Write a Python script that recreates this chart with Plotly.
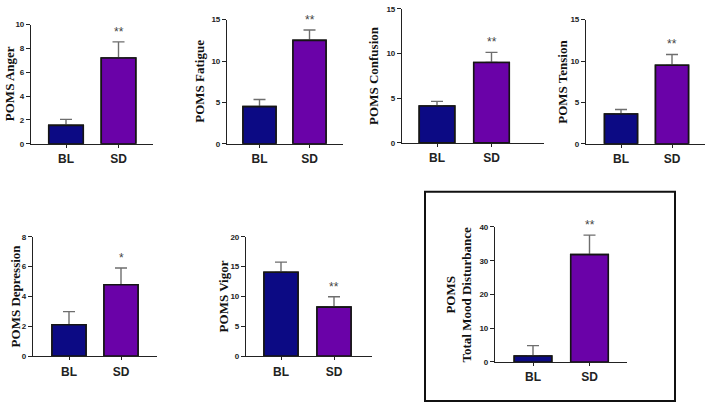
import plotly.graph_objects as go

W, H = 708, 409

# data (mean and upper SEM)
groups = ["BL", "SD"]
labels = ["POMS Anger", "POMS Fatigue", "POMS Confusion", "POMS Tension",
          "POMS Depression", "POMS Vigor", "POMS<br>Total Mood Disturbance"]
bl_mean = [1.55, 4.5, 4.13, 3.6, 2.1, 14.05, 1.75]
bl_sem = [0.5, 0.85, 0.52, 0.55, 0.88, 1.7, 3.1]
sd_mean = [7.2, 12.5, 9.0, 9.5, 4.78, 8.2, 31.8]
sd_sem = [1.35, 1.25, 1.13, 1.3, 1.13, 1.75, 5.8]
stars = ["**", "**", "**", "**", "*", "**", "**"]
y_max = [10, 15, 15, 15, 8, 20, 40]
y_step = [2, 5, 5, 5, 2, 5, 10]

# panel placement in pixels: axis left, axis right, top tick, zero line,
# BL centre, SD centre, bar width, title centre x
panels = [
    (31, 153, 21, 143, 66, 118.5, 34.5, 9),
    (227, 343, 16, 143, 259.5, 309.5, 33, 200),
    (402, 544, 5, 142, 437, 491.5, 35.5, 374),
    (586, 705, 16, 143, 621, 672, 33, 563),
    (33, 157, 238, 360, 69, 121, 34, 15),
    (246, 372, 238, 360, 281, 334, 34, 223),
    (495, 627, 228, 366, 533, 589.5, 37.5, 459),
]

bl_color = "#0c0a84"
sd_color = "#6a02a8"

fig = go.Figure()
annotations = []
layout = {}

for i, (left, right, top, bottom, blc, sdc, bw, tx) in enumerate(panels):
    n = "" if i == 0 else str(i + 1)
    unit = sdc - blc
    bar_style = dict(color=[bl_color, sd_color], line=dict(color="#151515", width=1.6))
    # error bars (upper only)
    fig.add_trace(go.Bar(
        x=[0, 1], y=[bl_mean[i], sd_mean[i]], width=bw / unit, marker=bar_style,
        error_y=dict(type="data", array=[bl_sem[i], sd_sem[i]], arrayminus=[0, 0],
                     symmetric=False, color="#6e6e6e", thickness=1.4, width=6),
        xaxis="x" + n, yaxis="y" + n, showlegend=False))
    # bars again on top so the lower whisker is hidden by the outline
    fig.add_trace(go.Bar(
        x=[0, 1], y=[bl_mean[i], sd_mean[i]], width=bw / unit, marker=bar_style,
        xaxis="x" + n, yaxis="y" + n, showlegend=False))
    layout["xaxis" + n] = dict(
        domain=[left / W, right / W], anchor="y" + n,
        range=[(left - blc) / unit, (right - blc) / unit],
        tickvals=[0, 1], ticktext=groups, ticks="outside", ticklen=3,
        tickcolor="#222", showline=True, linecolor="#222", linewidth=1.2,
        showgrid=False, zeroline=False, ticklabelstandoff=1,
        tickfont=dict(family="Liberation Sans", size=12, color="#222", weight="bold"))
    layout["yaxis" + n] = dict(
        domain=[1 - bottom / H, 1 - top / H], anchor="x" + n,
        range=[0, y_max[i]], dtick=y_step[i], ticks="outside", ticklen=4,
        tickcolor="#222", showline=True, linecolor="#222", linewidth=1.2,
        showgrid=False, zeroline=False,
        tickfont=dict(family="Liberation Sans", size=8, color="#222", weight="bold"))
    annotations.append(dict(
        xref="paper", yref="paper", x=tx / W, y=1 - (top + bottom) / 2 / H,
        xanchor="center", yanchor="middle",
        text="<b>" + labels[i] + "</b>", textangle=-90, showarrow=False,
        font=dict(family="Liberation Serif", size=13, color="#111")))
    annotations.append(dict(
        xref="x" + n, yref="y" + n, x=1, y=sd_mean[i] + sd_sem[i],
        text=stars[i], showarrow=False, yshift=10,
        font=dict(family="Liberation Sans", size=12, color="#444")))

fig.update_layout(**layout)
fig.update_layout(
    width=W, height=H, margin=dict(l=0, r=0, t=0, b=0),
    barmode="overlay",
    paper_bgcolor="white", plot_bgcolor="white",
    annotations=annotations,
    shapes=[dict(type="rect", xref="paper", yref="paper",
                 x0=425 / W, x1=675 / W, y0=1 - 406 / H, y1=1 - 192 / H,
                 line=dict(color="#111", width=2))])

# drop the default page margin so the figure sits at 0,0
fig.write_html("out.html", config={"displayModeBar": False},
               post_script="document.body.style.margin='0';")
